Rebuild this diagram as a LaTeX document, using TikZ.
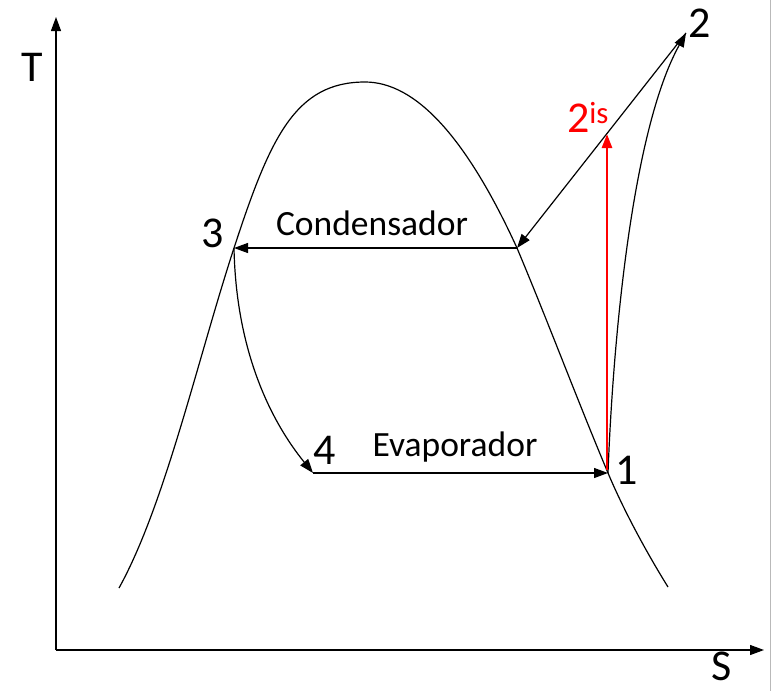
\documentclass[tikz,border=0pt]{standalone}
\usepackage{fontspec}
\setmainfont{Carlito}
\usetikzlibrary{arrows.meta}
\tikzset{
  curve/.style={line width=1.2pt, black},
  arr/.style={-{Triangle[length=14pt,width=10pt]}},
  biglab/.style={font=\fontsize{44}{48}\selectfont, inner sep=0pt},
  txtlab/.style={font=\fontsize{35.5}{40}\selectfont, inner sep=0pt},
}
\begin{document}
\begin{tikzpicture}[x=1pt,y=-1pt]
\useasboundingbox (0,0) rectangle (771,691);
\draw[gray!55, line width=1pt] (770,0) -- (770,691);
% axes
\coordinate (o) at (56,650);
\coordinate (tend) at (56,17);
\coordinate (send) at (764,650);
\draw[curve, arr] (o) -- (tend);
\draw[curve, arr] (o) -- (send);
\node[biglab] (tlab) at (32,67) {T};
\node[biglab] (slab) at (722,666) {S};
% points
\coordinate (p1) at (608,473);
\coordinate (p2) at (686,33);
\coordinate (p3) at (234,248);
\coordinate (p4) at (313,473);
\coordinate (pc) at (517,248);
\coordinate (p2is) at (607,134);
\coordinate (dl) at (119,588);
\coordinate (dtop) at (365,82);
\coordinate (dr) at (668,587);
% saturation dome
\draw[curve] (dl) .. controls (165,505) and (198,358) .. (p3)
  .. controls (270,138) and (295,82) .. (dtop)
  .. controls (415.7,82) and (466.3,137.3) .. (pc)
  .. controls (548.5,323) and (576.5,398) .. (p1)
  .. controls (622.7,508) and (645,550) .. (dr);
% cycle
\draw[curve, arr] (pc) -- (p3);
\draw[curve, arr] (p2) -- (pc);
\draw[curve, arr] (p1) .. controls (613,340) and (632,130) .. (p2);
\draw[curve, arr] (p3) .. controls (236,350) and (270,420) .. (p4);
\draw[curve, arr] (p4) -- (p1);
\draw[red, line width=2.6pt, arr] (607,470) -- (p2is);
% labels
\node[biglab] (l1) at (627,470) {1};
\node[biglab] (l2) at (700,23) {2};
\node[biglab] (l3) at (213,233) {3};
\node[biglab] (l4) at (325,450) {4};
\node[biglab, text=red] (l2is) at (588,117) {2\textsuperscript{is}};
\node[txtlab] (cond) at (372,223) {Condensador};
\node[txtlab] (evap) at (455,447) {Evaporador};
\end{tikzpicture}
\end{document}
